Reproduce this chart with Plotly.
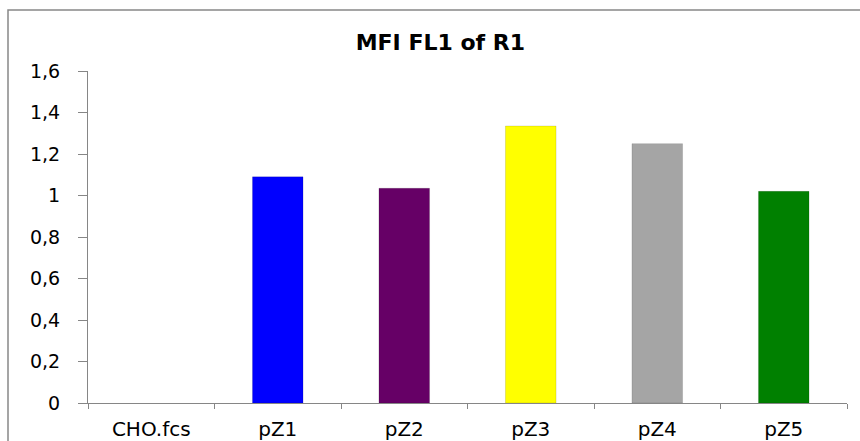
import plotly.graph_objects as go

categories = ["CHO.fcs", "pZ1", "pZ2", "pZ3", "pZ4", "pZ5"]
values = [0, 1.09, 1.035, 1.335, 1.25, 1.02]
colors = ["#FFFFFF", "#0000FF", "#660066", "#FFFF00", "#A5A5A5", "#008000"]
y_ticks = [0, 0.2, 0.4, 0.6, 0.8, 1.0, 1.2, 1.4, 1.6]
y_tick_labels = ["0", "0,2", "0,4", "0,6", "0,8", "1", "1,2", "1,4", "1,6"]

outline = ["rgba(0,0,0,0)" if v == 0 else "rgba(0,0,0,0.12)" for v in values]

fig = go.Figure()
fig.add_trace(go.Bar(
    x=categories, y=values,
    marker=dict(color=colors, line=dict(color=outline, width=1)),
    width=0.4,
))

axis_color = "#868686"
fig.update_layout(
    width=860, height=441,
    margin=dict(l=88, r=13, t=71, b=38, autoexpand=False),
    paper_bgcolor="white", plot_bgcolor="white",
    showlegend=False,
    title=dict(text="<b>MFI FL1 of R1</b>", x=0.512, xanchor="center", y=0.905, yanchor="middle",
               font=dict(family="DejaVu Sans", size=22, color="black")),
    xaxis=dict(showline=True, linecolor=axis_color, linewidth=1,
               ticks="outside", tickson="boundaries", ticklen=5, tickcolor=axis_color,
               tickfont=dict(family="DejaVu Sans", size=20, color="black"),
               ticklabelstandoff=8, automargin=False,
               showgrid=False),
    yaxis=dict(range=[0, 1.6], tickvals=y_ticks, ticktext=y_tick_labels,
               showline=True, linecolor=axis_color, linewidth=1,
               ticks="outside", ticklen=9, tickcolor=axis_color,
               tickfont=dict(family="DejaVu Sans", size=19, color="black"),
               ticklabelstandoff=14, automargin=False,
               showgrid=False, zeroline=False),
    shapes=[dict(type="rect", xref="paper", yref="paper",
                 x0=(8 - 88) / 759, x1=1.05, y0=-0.3, y1=(403 - 10) / 332,
                 line=dict(color="#888888", width=1.5), layer="below")],
)

fig.write_html("out.html", config={"displayModeBar": False},
               post_script="document.body.style.margin='0';document.body.style.overflow='hidden';")
